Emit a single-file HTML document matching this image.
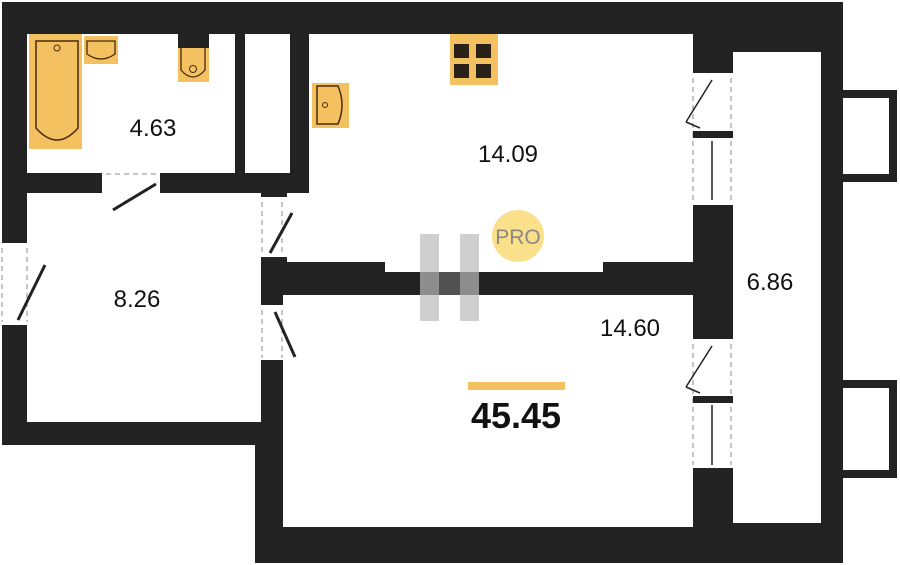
<!DOCTYPE html>
<html><head><meta charset="utf-8"><style>
html,body{margin:0;padding:0;background:#fff;width:900px;height:565px;overflow:hidden}
svg{display:block}
text{font-family:"Liberation Sans",sans-serif}
</style></head><body>
<svg width="900" height="565" viewBox="0 0 900 565" xmlns="http://www.w3.org/2000/svg">
<rect width="900" height="565" fill="#fff"/>
<!-- walls -->
<rect x="2" y="2" width="841" height="443" fill="#222"/>
<rect x="255" y="2" width="588" height="561" fill="#222"/>
<!-- balcony boxes -->
<rect x="843" y="90" width="54" height="92" fill="#222"/>
<rect x="843" y="98" width="46" height="76" fill="#fff"/>
<rect x="843" y="380" width="54" height="98" fill="#222"/>
<rect x="843" y="388" width="46" height="82" fill="#fff"/>
<!-- rooms -->
<rect x="27" y="34" width="208" height="139" fill="#fff"/>
<rect x="245" y="34" width="45" height="139" fill="#fff"/>
<rect x="309" y="34" width="384" height="228" fill="#fff"/>
<rect x="287" y="193" width="30" height="69" fill="#fff"/>
<rect x="385" y="262" width="218" height="10" fill="#fff"/>
<rect x="27" y="193" width="234" height="229" fill="#fff"/>
<rect x="283" y="295" width="410" height="232" fill="#fff"/>
<rect x="733" y="52" width="88" height="471" fill="#fff"/>
<!-- door openings -->
<rect x="102" y="173" width="58" height="20" fill="#fff"/>
<rect x="261" y="197" width="26" height="60" fill="#fff"/>
<rect x="261" y="305" width="22" height="55" fill="#fff"/>
<rect x="0" y="243" width="27" height="82" fill="#fff"/>
<rect x="693" y="73" width="40" height="132" fill="#fff"/>
<rect x="693" y="339" width="40" height="129" fill="#fff"/>
<g stroke="#888" stroke-dasharray="5,4" fill="none" stroke-width="1">
<line x1="106" y1="174" x2="158" y2="174"/>
<line x1="262" y1="202" x2="262" y2="255"/><line x1="282" y1="202" x2="282" y2="255"/>
<line x1="262" y1="310" x2="262" y2="358"/><line x1="282" y1="310" x2="282" y2="358"/>
<line x1="2" y1="248" x2="2" y2="322"/><line x1="27" y1="248" x2="27" y2="322"/>
<line x1="693" y1="78" x2="693" y2="202"/><line x1="731" y1="78" x2="731" y2="202"/>
<line x1="693" y1="344" x2="693" y2="465"/><line x1="731" y1="344" x2="731" y2="465"/>
</g>
<g stroke="#222" stroke-width="3" fill="none">
<line x1="113" y1="210" x2="156" y2="184"/>
<line x1="270" y1="253" x2="292" y2="213"/>
<line x1="275" y1="312" x2="295" y2="357"/>
<line x1="18" y1="320" x2="45" y2="265"/>
</g>
<g stroke="#222" stroke-width="1.5" fill="none">
<line x1="712" y1="80" x2="686" y2="122"/><line x1="686" y1="122" x2="700" y2="128"/>
<line x1="712" y1="346" x2="686" y2="387"/><line x1="686" y1="387" x2="700" y2="393"/>
<line x1="712" y1="141" x2="712" y2="200"/><line x1="712" y1="405" x2="712" y2="465"/>
</g>
<rect x="693" y="131" width="40" height="7" fill="#222"/>
<rect x="693" y="396" width="40" height="7" fill="#222"/>
<!-- fixtures -->
<rect x="29" y="34" width="53" height="115" fill="#f3c160"/>
<path d="M36 41 H78 V128 Q57 152 36 128 Z" fill="none" stroke="#4a2a10" stroke-width="1.5"/>
<circle cx="57" cy="48" r="3" fill="none" stroke="#4a2a10"/>
<rect x="84" y="36" width="34" height="28" fill="#f3c160"/>
<path d="M87 41 H115 V54 Q101 64 87 54 Z" fill="none" stroke="#4a2a10" stroke-width="1.3"/>
<rect x="178" y="34" width="31" height="48" fill="#f3c160"/>
<rect x="178" y="34" width="31" height="14" fill="#222"/>
<path d="M181 48 V70 Q193 84 205 70 V48" fill="none" stroke="#4a2a10" stroke-width="1.3"/>
<circle cx="193" cy="69" r="3.5" fill="none" stroke="#4a2a10"/>
<rect x="312" y="83" width="37" height="45" fill="#f3c160"/>
<path d="M317 86 H338 Q346 105 338 124 H317 Z" fill="none" stroke="#4a2a10" stroke-width="1.5"/>
<circle cx="325" cy="105" r="2.5" fill="none" stroke="#4a2a10"/>
<rect x="450" y="34" width="48" height="51" fill="#f3c160"/>
<rect x="454" y="44" width="15" height="14" fill="#2a2218"/><rect x="476" y="44" width="15" height="14" fill="#2a2218"/>
<rect x="454" y="64" width="15" height="14" fill="#2a2218"/><rect x="476" y="64" width="15" height="14" fill="#2a2218"/>
<!-- watermark -->
<rect x="420" y="234" width="19" height="87" fill="#bbb" opacity="0.7"/>
<rect x="460" y="234" width="19" height="87" fill="#bbb" opacity="0.7"/>
<rect x="439" y="272" width="21" height="23" fill="#666" opacity="0.7"/>
<circle cx="518" cy="236" r="26" fill="#fbe08c"/>
<text x="518" y="244" font-size="21" fill="#8a8a80" text-anchor="middle">PRO</text>
<!-- labels -->
<g font-size="24" fill="#111" text-anchor="middle">
<text x="153" y="136">4.63</text>
<text x="508" y="162">14.09</text>
<text x="137" y="307">8.26</text>
<text x="630" y="336">14.60</text>
<text x="770" y="290">6.86</text>
</g>
<rect x="468" y="382" width="97" height="8" fill="#f3c160"/>
<text x="516" y="428" font-size="36" font-weight="bold" fill="#111" text-anchor="middle">45.45</text>
</svg>
</body></html>
